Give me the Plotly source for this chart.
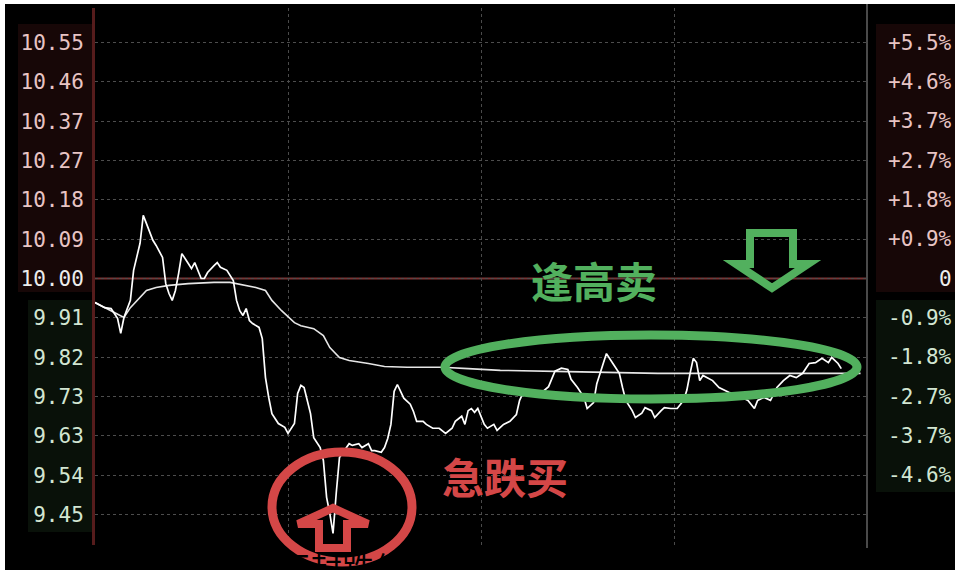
import plotly.graph_objects as go

# ---------------- data ----------------
prev_close = 10.00

price_min = [0, 2, 3, 5, 6, 7, 8, 9, 11, 12,
             14, 15, 16, 18, 19, 21, 22, 23, 24, 25,
             26, 27, 29, 30, 31, 32, 33, 34, 35, 37,
             38, 39, 41, 43, 44, 45, 46, 47, 48, 49,
             51, 52, 53, 54, 55, 57, 59, 60, 62, 63,
             64, 65, 67, 68, 70, 71, 72, 73, 74, 75,
             76, 79, 80, 82, 83, 85, 86, 87, 89, 90,
             91, 92, 93, 94, 95, 96, 98, 99, 100, 102,
             103, 105, 107, 109, 111, 112, 114, 115, 116, 117,
             118, 119, 121, 122, 124, 125, 127, 129, 131, 132,
             133, 135, 137, 139, 141, 143, 145, 147, 148, 150,
             152, 153, 155, 156, 158, 159, 161, 163, 164, 165,
             167, 168, 170, 171, 173, 174, 176, 177, 179, 181,
             183, 184, 185, 186, 187, 188, 189, 191, 192, 194,
             197, 199, 201, 203, 205, 206, 208, 210, 212, 214,
             216, 218, 220, 222, 224, 226, 228, 229, 231, 232]

price_val = [9.944, 9.937, 9.932, 9.930, 9.918, 9.907, 9.872, 9.909, 9.949, 10.019,
             10.082, 10.147, 10.128, 10.089, 10.077, 10.049, 9.988, 9.965, 9.949, 9.972,
             10.012, 10.058, 10.035, 10.023, 10.037, 10.019, 10.000, 10.000, 10.014, 10.030,
             10.037, 10.026, 10.019, 9.995, 9.949, 9.925, 9.914, 9.930, 9.902, 9.895,
             9.886, 9.860, 9.769, 9.723, 9.685, 9.662, 9.653, 9.639, 9.662, 9.732,
             9.751, 9.746, 9.685, 9.629, 9.606, 9.576, 9.490, 9.452, 9.406, 9.500,
             9.583, 9.615, 9.611, 9.615, 9.606, 9.615, 9.599, 9.599, 9.595, 9.606,
             9.627, 9.660, 9.737, 9.753, 9.737, 9.721, 9.707, 9.690, 9.667, 9.667,
             9.660, 9.651, 9.651, 9.639, 9.651, 9.667, 9.679, 9.660, 9.692, 9.697,
             9.688, 9.697, 9.660, 9.651, 9.660, 9.646, 9.660, 9.667, 9.683, 9.716,
             9.732, 9.732, 9.727, 9.735, 9.748, 9.784, 9.791, 9.788, 9.765, 9.746,
             9.723, 9.697, 9.711, 9.755, 9.802, 9.825, 9.802, 9.779, 9.746, 9.716,
             9.692, 9.676, 9.686, 9.699, 9.692, 9.676, 9.692, 9.699, 9.697, 9.697,
             9.716, 9.740, 9.779, 9.814, 9.804, 9.762, 9.774, 9.767, 9.762, 9.746,
             9.735, 9.730, 9.723, 9.716, 9.697, 9.716, 9.723, 9.716, 9.746, 9.762,
             9.774, 9.769, 9.779, 9.802, 9.804, 9.814, 9.804, 9.816, 9.802, 9.790]

avg_min = [0, 9, 11, 14, 16, 19, 23, 29, 37, 42,
           47, 50, 53, 55, 58, 62, 64, 68, 71, 73,
           76, 79, 85, 90, 97, 108, 116, 126, 147, 175,
           218, 238]
avg_val = [9.944, 9.909, 9.932, 9.956, 9.972, 9.979, 9.984, 9.988, 9.991, 9.991,
           9.984, 9.979, 9.972, 9.949, 9.925, 9.897, 9.890, 9.883, 9.867, 9.839,
           9.816, 9.809, 9.802, 9.795, 9.793, 9.793, 9.790, 9.786, 9.783, 9.779,
           9.779, 9.779]

price_labels = ["10.55", "10.46", "10.37", "10.27", "10.18", "10.09", "10.00",
                "9.91", "9.82", "9.73", "9.63", "9.54", "9.45"]
pct_labels = ["+5.5%", "+4.6%", "+3.7%", "+2.7%", "+1.8%", "+0.9%", "0",
              "-0.9%", "-1.8%", "-2.7%", "-3.7%", "-4.6%", ""]
grid_minutes = [60, 120, 180]

# ---------------- layout geometry / style ----------------
W, H = 955, 570
ML, MR, MT, MB = 95, 88, 8, 25
PW, PH = W - ML - MR, H - MT - MB
step = prev_close * 0.055 / 6
tick_vals = [prev_close + (6 - k) * step for k in range(13)]
y_lo = prev_close - 6 * step - (545 - 514.5) / 429.1
y_hi = prev_close + 6 * step + (42.5 - 8) / 429.1

UP_C, MID_C, DN_C = "#e8c4c4", "#ececec", "#d2e6d2"
def lab_color(k):
    return UP_C if k < 6 else (MID_C if k == 6 else DN_C)

def pxx(px):
    return (px - ML) / PW
def pxy(py):
    return (H - MB - py) / PH

MONO = "DejaVu Sans Mono"
CJK = "Noto Sans CJK SC"
GREEN = "#52b05e"
RED = "#d44747"
FS = 21

fig = go.Figure()
fig.add_trace(go.Scatter(x=avg_min, y=avg_val, mode="lines",
                         line=dict(color="#e6e6e6", width=1.6), hoverinfo="skip"))
fig.add_trace(go.Scatter(x=price_min, y=price_val, mode="lines",
                         line=dict(color="#ffffff", width=1.7), hoverinfo="skip"))

ticktext = ['<span style="color:%s">%s</span>' % (lab_color(k), t)
            for k, t in enumerate(price_labels)]

shapes = []
# label background tints
shapes.append(dict(type="rect", xref="paper", yref="paper", layer="below",
                   x0=pxx(18), x1=pxx(93), y0=pxy(292), y1=pxy(24),
                   fillcolor="#170707", line=dict(width=0)))
shapes.append(dict(type="rect", xref="paper", yref="paper", layer="below",
                   x0=pxx(28), x1=pxx(93), y0=pxy(532), y1=pxy(300),
                   fillcolor="#091109", line=dict(width=0)))
shapes.append(dict(type="rect", xref="paper", yref="paper", layer="below",
                   x0=pxx(876), x1=pxx(955), y0=pxy(292), y1=pxy(24),
                   fillcolor="#170707", line=dict(width=0)))
shapes.append(dict(type="rect", xref="paper", yref="paper", layer="below",
                   x0=pxx(876), x1=pxx(955), y0=pxy(492), y1=pxy(300),
                   fillcolor="#091109", line=dict(width=0)))
# previous close line
shapes.append(dict(type="line", xref="paper", yref="y", layer="below",
                   x0=0, x1=1, y0=prev_close, y1=prev_close,
                   line=dict(color="#7a3434", width=2)))
# right frame line
shapes.append(dict(type="line", xref="paper", yref="paper", layer="below",
                   x0=1, x1=1, y0=pxy(548), y1=pxy(4),
                   line=dict(color="#4a4a4a", width=2)))
# green ellipse
shapes.append(dict(type="circle", xref="paper", yref="paper", layer="above",
                   x0=pxx(445), x1=pxx(857), y0=pxy(399), y1=pxy(335),
                   line=dict(color=GREEN, width=9)))
# red circle
shapes.append(dict(type="circle", xref="paper", yref="paper", layer="above",
                   x0=pxx(272), x1=pxx(412), y0=pxy(562), y1=pxy(452),
                   line=dict(color=RED, width=9)))
# green down arrow (outline)
ga = [(750, 233), (793, 233), (793, 264), (808, 264), (772, 288), (736, 264), (750, 264)]
shapes.append(dict(type="path", xref="paper", yref="paper", layer="above",
                   path="M " + " L ".join("%f,%f" % (pxx(a), pxy(b)) for a, b in ga) + " Z",
                   line=dict(color=GREEN, width=8), fillcolor="rgba(0,0,0,0)"))
# red up arrow (outline)
ra = [(333, 508), (368, 524), (347, 524), (347, 548), (319, 548), (319, 524), (298, 524)]
shapes.append(dict(type="path", xref="paper", yref="paper", layer="above",
                   path="M " + " L ".join("%f,%f" % (pxx(a), pxy(b)) for a, b in ra) + " Z",
                   line=dict(color=RED, width=8), fillcolor="rgba(0,0,0,0)"))
# white page edges
shapes.append(dict(type="rect", xref="paper", yref="paper", layer="above",
                   x0=pxx(0), x1=pxx(W), y0=pxy(4), y1=pxy(0),
                   fillcolor="white", line=dict(width=0)))
shapes.append(dict(type="rect", xref="paper", yref="paper", layer="above",
                   x0=pxx(0), x1=pxx(5), y0=pxy(H), y1=pxy(0),
                   fillcolor="white", line=dict(width=0)))

annotations = []
for k, t in enumerate(pct_labels):
    if not t:
        continue
    annotations.append(dict(xref="paper", yref="y", x=1, y=tick_vals[k],
                            xanchor="right", yanchor="middle", xshift=87,
                            text=t, showarrow=False,
                            font=dict(family=MONO, size=FS, color=lab_color(k))))
annotations.append(dict(xref="paper", yref="paper", x=pxx(594), y=pxy(279),
                        text="<b>逢高卖</b>", showarrow=False,
                        font=dict(family=CJK, size=42, color=GREEN)))
annotations.append(dict(xref="paper", yref="paper", x=pxx(505), y=pxy(508),
                        text="<b>急跌买</b>", showarrow=False,
                        font=dict(family=CJK, size=42, color=RED)))
annotations.append(dict(xref="paper", yref="paper", x=pxx(276), y=pxy(541),
                        xanchor="left", yanchor="top",
                        text="不封跌停信号", showarrow=False,
                        font=dict(family=CJK, size=32, color="black")))

fig.update_layout(
    width=W, height=H,
    margin=dict(l=ML, r=MR, t=MT, b=MB, pad=0),
    paper_bgcolor="black", plot_bgcolor="black",
    showlegend=False,
    xaxis=dict(range=[0, 240], tickvals=grid_minutes, showticklabels=False,
               showgrid=True, gridcolor="#4a4a4a", griddash="dot", gridwidth=1,
               zeroline=False, showline=False, ticks=""),
    yaxis=dict(range=[y_lo, y_hi], tickvals=tick_vals, ticktext=ticktext,
               showgrid=True, gridcolor="#4d4d4d", griddash="dot", gridwidth=1,
               zeroline=False, showline=True, linecolor="#561c1c", linewidth=3,
               ticks="", ticklabelstandoff=4,
               tickfont=dict(family=MONO, size=FS, color=MID_C)),
    shapes=shapes,
    annotations=annotations,
)

fig.write_html("out.html",
               config={"displayModeBar": False},
               post_script="document.body.style.margin='0';"
                           "document.body.style.overflow='hidden';")
